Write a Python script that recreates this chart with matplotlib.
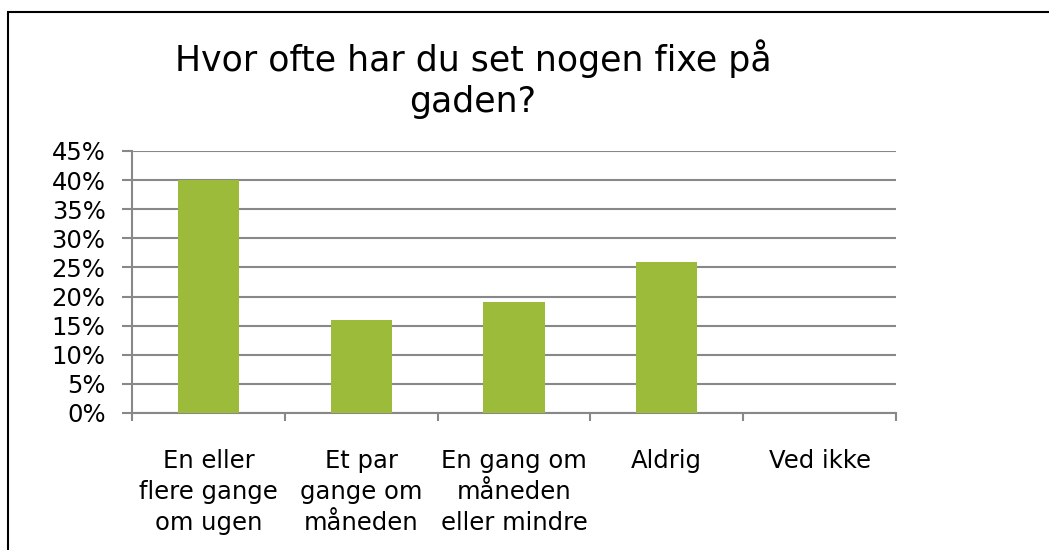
import matplotlib
matplotlib.use("Agg")
import matplotlib.pyplot as plt
from matplotlib.patches import Rectangle
from matplotlib.ticker import MultipleLocator, FuncFormatter

categories = ["En eller\nflere gange\nom ugen", "Et par\ngange om\nmåneden",
              "En gang om\nmåneden\neller mindre", "Aldrig", "Ved ikke"]
values = [40, 16, 19, 26, 0]
title = "Hvor ofte har du set nogen fixe på\ngaden?"

plt.rcParams['font.family'] = ['DejaVu Sans']
W, H = 1049, 550
fig = plt.figure(figsize=(W/100, H/100), dpi=100)

# outer border (left and top visible)
fig.patches.append(Rectangle((8/W, -0.1), 1.2, (H-12)/H + 0.1, transform=fig.transFigure,
                             fill=False, edgecolor='black', linewidth=1.5))

ax = fig.add_axes([132/W, 1-413/H, (896-132)/W, (413-151)/H])
x = list(range(len(categories)))
ax.bar(x, values, width=0.4, color='#9DBB3A', zorder=3)
ax.set_xlim(-0.5, len(categories)-0.5)
ax.set_ylim(0, 45)
ax.yaxis.set_major_locator(MultipleLocator(5))
ax.yaxis.set_major_formatter(FuncFormatter(lambda v, p: f"{int(round(v))}%"))
ax.grid(axis='y', color='#888888', linewidth=1.5, zorder=0)
for s in ['top', 'right']:
    ax.spines[s].set_visible(False)
ax.spines['left'].set_color('#888888')
ax.spines['bottom'].set_color('#888888')
ax.spines['left'].set_linewidth(1.5)
ax.spines['bottom'].set_linewidth(1.5)

ax.set_xticks([i + 0.5 for i in range(-1, len(categories))])
ax.set_xticklabels([])
ax.tick_params(axis='x', length=6, width=1.5, color='#888888', direction='out')
ax.set_xticks(x, minor=True)
ax.set_xticklabels(categories, minor=True, fontsize=17.5, linespacing=1.37)
ax.tick_params(axis='x', which='minor', length=0, pad=26)
ax.tick_params(axis='y', length=7, width=1.5, color='#888888', labelsize=17.5, pad=12)

fig.text(473/W, 1-79/H, title, ha='center', va='center', fontsize=25, linespacing=1.25)

fig.savefig("out.png", dpi=100)
